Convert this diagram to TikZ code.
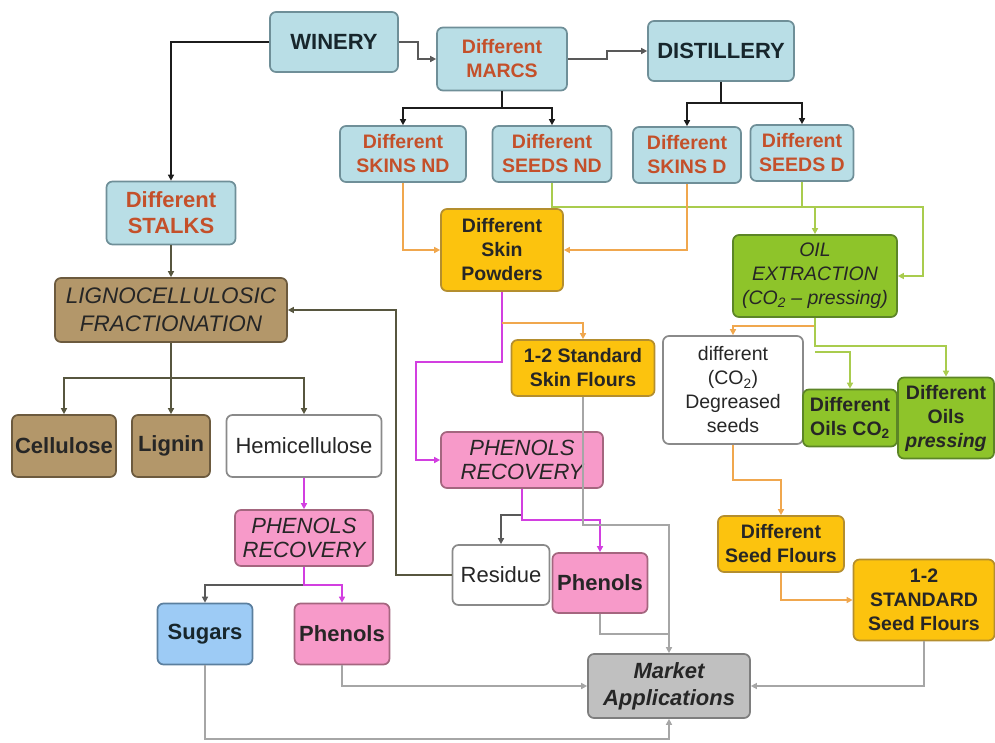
\documentclass[tikz,border=0pt]{standalone}
\usepackage{fontspec}
\setmainfont{Liberation Sans}
\usetikzlibrary{arrows.meta}
\definecolor{cblue}{HTML}{B9DEE6}
\definecolor{cblueB}{HTML}{6F8F98}
\definecolor{cred}{HTML}{C4502A}
\definecolor{cdark}{HTML}{17262C}
\definecolor{cyel}{HTML}{FCC30E}
\definecolor{cyelB}{HTML}{B48E2E}
\definecolor{cgrn}{HTML}{8EC42A}
\definecolor{cgrnB}{HTML}{5C8526}
\definecolor{cbrn}{HTML}{B3976A}
\definecolor{cbrnB}{HTML}{6C5A3E}
\definecolor{cpink}{HTML}{F79AC9}
\definecolor{cpinkB}{HTML}{A4667F}
\definecolor{csky}{HTML}{9DCBF5}
\definecolor{cskyB}{HTML}{5B7F9E}
\definecolor{cgray}{HTML}{C0C0C0}
\definecolor{cgrayB}{HTML}{7E7E7E}
\definecolor{cwhB}{HTML}{8A8A8A}
\definecolor{lorg}{HTML}{F0A74E}
\definecolor{lgrn}{HTML}{A9CC4E}
\definecolor{lmag}{HTML}{D23FE0}
\definecolor{lgry}{HTML}{A6A6A6}
\definecolor{lolv}{HTML}{57563F}
\definecolor{lblk}{HTML}{1C1C1C}
\tikzset{
  box/.style={draw, rounded corners=6pt, line width=1.7pt, align=center, inner sep=0pt,
    font=\fontsize{19.5}{24}\selectfont\bfseries},
  big/.style={font=\fontsize{22}{26}\selectfont\bfseries},
  bigreg/.style={font=\fontsize{22}{26}\selectfont},
  bigitl/.style={font=\fontsize{22}{26}\selectfont\itshape},
  blu/.style={box, fill=cblue, draw=cblueB, text=cred},
  bluk/.style={box, fill=cblue, draw=cblueB, text=cdark},
  yel/.style={box, fill=cyel, draw=cyelB, text=black!85},
  grnbox/.style={box, fill=cgrn, draw=cgrnB, text=black!85},
  brn/.style={box, fill=cbrn, draw=cbrnB, text=black!85},
  pnk/.style={box, fill=cpink, draw=cpinkB, text=black!85},
  sky/.style={box, fill=csky, draw=cskyB, text=cdark},
  gry/.style={box, fill=cgray, draw=cgrayB, text=black!85},
  wht/.style={box, fill=white, draw=cwhB, text=black!85},
  reg/.style={font=\fontsize{19.5}{24}\selectfont},
  itl/.style={font=\fontsize{19.5}{24}\selectfont\itshape},
  tip/.style={-{Triangle[length=6pt,width=6pt]}},
  blkl/.style={draw=lblk, line width=2.8pt},
  thinl/.style={draw=black!65, line width=1.5pt},
  orgl/.style={draw=lorg, line width=2.4pt},
  grnl/.style={draw=lgrn, line width=2.4pt},
  magl/.style={draw=lmag, line width=2.5pt},
  gryl/.style={draw=lgry, line width=2.3pt},
  olvl/.style={draw=lolv, line width=2.6pt},
}
\begin{document}
\begin{tikzpicture}[x=1pt,y=-1pt]
\useasboundingbox (0,0) rectangle (995,742);
% nodes
\node[bluk, big, minimum width=128, minimum height=60] (win) at (334,42) {WINERY};
\node[blu, minimum width=130, minimum height=63] (marcs) at (502,59) {Different\\MARCS};
\node[bluk, big, minimum width=146, minimum height=60] (dist) at (721,51) {DISTILLERY};
\node[blu, minimum width=126, minimum height=56] (skinsnd) at (403,154) {Different\\SKINS ND};
\node[blu, minimum width=119, minimum height=56] (seedsnd) at (552,154) {Different\\SEEDS ND};
\node[blu, minimum width=108, minimum height=56] (skinsd) at (687,155) {Different\\SKINS D};
\node[blu, minimum width=103, minimum height=56] (seedsd) at (802,153) {Different\\SEEDS D};
\node[blu, big, minimum width=129, minimum height=63] (stalks) at (171,213) {Different\\STALKS};
\node[yel, minimum width=122, minimum height=82] (powders) at (502,250) {Different\\Skin\\Powders};
\node[grnbox, itl, minimum width=164, minimum height=82] (oil) at (815,276) {OIL\\EXTRACTION\\(CO\textsubscript{2} – pressing)};
\node[brn, bigitl, font=\fontsize{22.5}{28}\selectfont\itshape, minimum width=232, minimum height=64] (ligno) at (171,310) {LIGNOCELLULOSIC\\FRACTIONATION};
\node[yel, minimum width=143, minimum height=56] (skinfl) at (583,368) {1-2 Standard\\Skin Flours};
\node[wht, reg, minimum width=140, minimum height=108] (degr) at (733,390) {different\\(CO\textsubscript{2})\\Degreased\\seeds};
\node[grnbox, minimum width=94, minimum height=57] (oilsco) at (850,418) {Different\\Oils CO\textsubscript{2}};
\node[grnbox, minimum width=96, minimum height=81] (oilsp) at (946,418) {Different\\Oils\\\textit{pressing}};
\node[brn, big, minimum width=104, minimum height=62] (cell) at (64,446) {Cellulose};
\node[brn, big, minimum width=78, minimum height=62] (lign) at (171,446) {Lignin};
\node[wht, bigreg, minimum width=155, minimum height=62] (hemi) at (304,446) {Hemicellulose};
\node[pnk, bigitl, font=\fontsize{22}{24}\selectfont\itshape, minimum width=162, minimum height=56] (precm) at (522,460) {PHENOLS\\RECOVERY};
\node[pnk, bigitl, font=\fontsize{22}{24}\selectfont\itshape, minimum width=138, minimum height=56] (precl) at (304,538) {PHENOLS\\RECOVERY};
\node[wht, bigreg, minimum width=97, minimum height=60] (residue) at (501,575) {Residue};
\node[pnk, big, minimum width=95, minimum height=60] (phenm) at (600,583) {Phenols};
\node[yel, minimum width=126, minimum height=56] (seedfl) at (781,544) {Different\\Seed Flours};
\node[yel, minimum width=141, minimum height=81] (stdseed) at (924,600) {1-2\\STANDARD\\Seed Flours};
\node[sky, big, minimum width=95, minimum height=61] (sugars) at (205,634) {Sugars};
\node[pnk, big, minimum width=95, minimum height=61] (phenl) at (342,634) {Phenols};
\node[gry, font=\fontsize{22}{27}\selectfont\bfseries\itshape, minimum width=162, minimum height=64] (market) at (669,686) {Market\\Applications};
% black connectors
\draw[blkl, tip] (win.west) -| (stalks.north);
\draw[thinl, tip] (win.east) -- (418,42) |- (marcs.west);
\draw[thinl, tip] (marcs.east) -- (607,59) |- (dist.west);
\draw[blkl] (marcs.south) -- (502,108);
\draw[blkl, tip] (502,108) -| (skinsnd.north);
\draw[blkl, tip] (502,108) -| (seedsnd.north);
\draw[blkl] (dist.south) -- (721,103);
\draw[blkl, tip] (721,103) -| (skinsd.north);
\draw[blkl, tip] (721,103) -| (seedsd.north);
% green seeds -> oil
\draw[grnl, tip] (seedsnd.south) -- (552,207) -- (923,207) |- (oil.east);
\draw[grnl] (seedsd.south) -- (802,207);
\draw[grnl, tip] (815,207) -- (oil.north);
% orange skins -> powders
\draw[orgl, tip] (skinsnd.south) |- (powders.west);
\draw[orgl, tip] (skinsd.south) |- (powders.east);
% powders
\draw[magl, tip] (powders.south) -- (502,362) -- (416,362) |- (precm.west);
\draw[orgl, tip] (502,323) -| (skinfl.north);
% stalks / ligno
\draw[olvl, tip] (stalks.south) -- (ligno.north);
\draw[olvl] (ligno.south) -- (171,378);
\draw[olvl, tip] (171,378) -| (cell.north);
\draw[olvl, tip] (171,378) -- (lign.north);
\draw[olvl, tip] (171,378) -| (hemi.north);
\draw[olvl, tip] (residue.west) -- (396,575) |- (ligno.east);
% hemicellulose branch
\draw[magl, tip] (hemi.south) -- (precl.north);
\draw[thinl, tip] (304,585) -| (sugars.north);
\draw[magl, tip] (precl.south) -- (304,585) -| (phenl.north);
% phenols recovery mid
\draw[thinl, tip] (522,515) -| (residue.north);
\draw[magl, tip] (precm.south) -- (522,520) -| (phenm.north);
% gray to market
\draw[gryl, tip] (skinfl.south) -- (583,525) -| (market.north);
\draw[gryl] (phenm.south) |- (669,634);
\draw[gryl, tip] (phenl.south) |- (market.west);
\draw[gryl, tip] (sugars.south) -- (205,739) -| (market.south);
\draw[gryl, tip] (stdseed.south) |- (market.east);
% oil extraction outputs
\draw[orgl, tip] (815,326) -| (degr.north);
\draw[grnl, tip] (oil.south) -- (815,346) -| (oilsp.north);
\draw[grnl, tip] (815,352) -| (oilsco.north);
% seeds flours
\draw[orgl, tip] (degr.south) -- (733,480) -| (seedfl.north);
\draw[orgl, tip] (seedfl.south) |- (stdseed.west);
\end{tikzpicture}
\end{document}
